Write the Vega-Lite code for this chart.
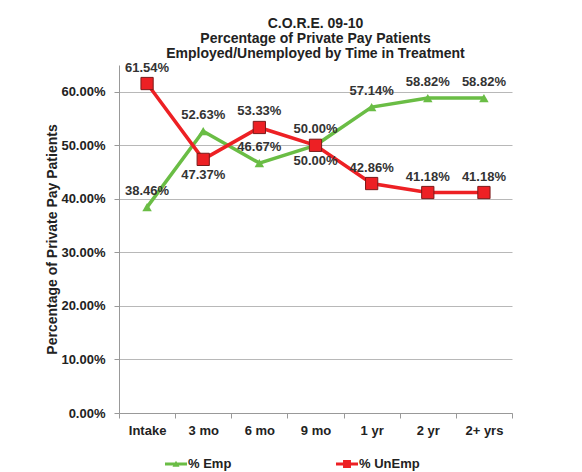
{
  "$schema": "https://vega.github.io/schema/vega-lite/v6.json",
  "width": 393,
  "height": 348,
  "autosize": {"type": "none"},
  "padding": {"left": 119, "top": 65, "right": 70, "bottom": 59},
  "background": "white",
  "config": {"font": "Liberation Sans", "view": {"stroke": null}},
  "title": {
    "text": ["C.O.R.E. 09-10", "Percentage of Private Pay Patients", "Employed/Unemployed by Time in Treatment"],
    "fontSize": 14,
    "fontWeight": "bold",
    "color": "#222222",
    "lineHeight": 15,
    "offset": 1,
    "anchor": "middle"
  },
  "data": {
    "values": [
      {"time": "Intake", "series": "% Emp", "pct": 0.3846},
      {"time": "3 mo", "series": "% Emp", "pct": 0.5263},
      {"time": "6 mo", "series": "% Emp", "pct": 0.4667},
      {"time": "9 mo", "series": "% Emp", "pct": 0.5},
      {"time": "1 yr", "series": "% Emp", "pct": 0.5714},
      {"time": "2 yr", "series": "% Emp", "pct": 0.5882},
      {"time": "2+ yrs", "series": "% Emp", "pct": 0.5882},
      {"time": "Intake", "series": "% UnEmp", "pct": 0.6154},
      {"time": "3 mo", "series": "% UnEmp", "pct": 0.4737},
      {"time": "6 mo", "series": "% UnEmp", "pct": 0.5333},
      {"time": "9 mo", "series": "% UnEmp", "pct": 0.5},
      {"time": "1 yr", "series": "% UnEmp", "pct": 0.4286},
      {"time": "2 yr", "series": "% UnEmp", "pct": 0.4118},
      {"time": "2+ yrs", "series": "% UnEmp", "pct": 0.4118}
    ]
  },
  "encoding": {
    "x": {
      "field": "time",
      "type": "nominal",
      "sort": ["Intake", "3 mo", "6 mo", "9 mo", "1 yr", "2 yr", "2+ yrs"],
      "scale": {"type": "band", "paddingInner": 0, "paddingOuter": 0},
      "axis": {
        "title": null,
        "labelAngle": 0,
        "labelFontSize": 13,
        "labelFontWeight": "bold",
        "labelColor": "#222222",
        "labelPadding": 6,
        "tickSize": 5,
        "tickBand": "extent",
        "tickColor": "#999999",
        "domainColor": "#999999",
        "grid": false
      }
    },
    "y": {
      "field": "pct",
      "type": "quantitative",
      "scale": {"domain": [0, 0.65], "nice": false},
      "axis": {
        "title": "Percentage of Private Pay Patients",
        "titleFontSize": 14,
        "titleFontWeight": "bold",
        "titleColor": "#222222",
        "titlePadding": 1,
        "format": ".2%",
        "values": [0, 0.1, 0.2, 0.3, 0.4, 0.5, 0.6],
        "labelFontSize": 13,
        "labelFontWeight": "bold",
        "labelColor": "#222222",
        "labelPadding": 9,
        "tickSize": 5,
        "tickColor": "#999999",
        "domainColor": "#999999",
        "gridColor": "#b8b8b8"
      }
    }
  },
  "layer": [
    {
      "mark": {"type": "line", "strokeWidth": 3.5},
      "encoding": {
        "color": {
          "field": "series",
          "type": "nominal",
          "scale": {"domain": ["% Emp", "% UnEmp"], "range": ["#6abd45", "#ed2024"]},
          "legend": {
            "title": null,
            "orient": "none",
            "direction": "horizontal",
            "legendX": 46,
            "legendY": 388,
            "symbolSize": 484,
            "labelFontSize": 13,
            "labelFontWeight": "bold",
            "labelColor": "#222222",
            "labelOffset": 1,
            "columnPadding": 104,
            "encode": {
              "symbols": {
                "update": {
                  "shape": {"signal": "datum.value === '% Emp' ? 'M-1,-0.14L1,-0.14L1,0.14L-1,0.14Z M0,-0.3L0.32,0.26L-0.32,0.26Z' : 'M-1,-0.14L1,-0.14L1,0.14L-1,0.14Z M-0.36,-0.36L0.36,-0.36L0.36,0.36L-0.36,0.36Z'"},
                  "fill": {"signal": "datum.value === '% Emp' ? '#6abd45' : '#ed2024'"},
                  "fillOpacity": {"value": 1},
                  "strokeWidth": {"value": 0}
                }
              }
            }
          }
        }
      }
    },
    {
      "transform": [{"filter": "datum.series === '% Emp'"}],
      "mark": {"type": "point", "shape": "triangle-up", "filled": true, "opacity": 1, "size": 90, "color": "#6abd45"}
    },
    {
      "transform": [{"filter": "datum.series === '% UnEmp'"}],
      "mark": {"type": "point", "shape": "square", "filled": true, "opacity": 1, "size": 150, "fill": "#ed2024", "stroke": "#7a1a1a", "strokeWidth": 1}
    },
    {
      "transform": [{"filter": "!(datum.series === '% UnEmp' && (datum.time === '3 mo' || datum.time === '9 mo'))"}],
      "mark": {"type": "text", "dy": -16, "fontSize": 13, "fontWeight": "bold", "color": "#333333"},
      "encoding": {"text": {"field": "pct", "type": "quantitative", "format": ".2%"}}
    },
    {
      "transform": [{"filter": "datum.series === '% UnEmp' && (datum.time === '3 mo' || datum.time === '9 mo')"}],
      "mark": {"type": "text", "dy": 16, "fontSize": 13, "fontWeight": "bold", "color": "#333333"},
      "encoding": {"text": {"field": "pct", "type": "quantitative", "format": ".2%"}}
    }
  ]
}
